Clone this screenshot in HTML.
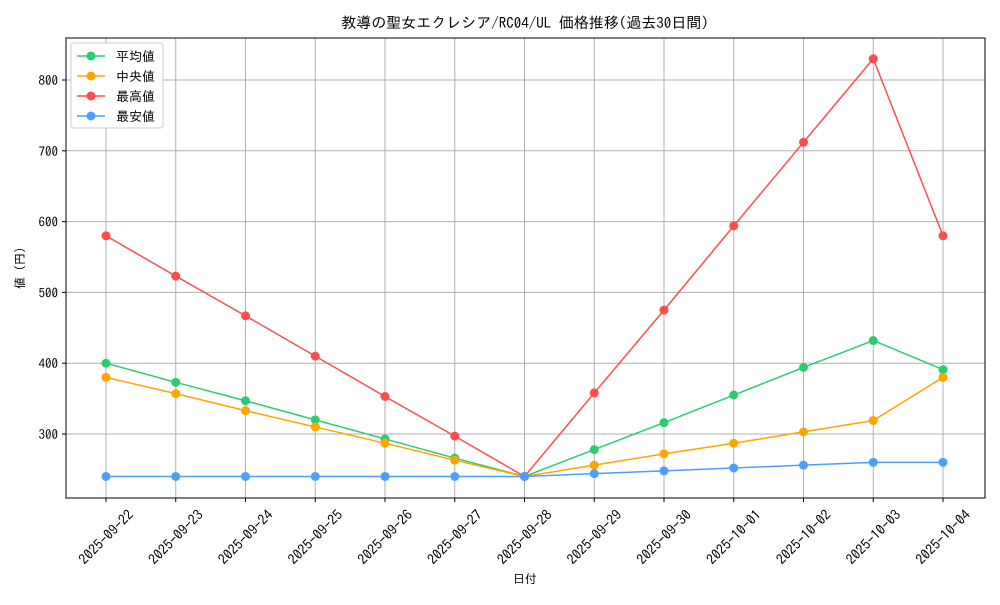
<!DOCTYPE html>
<html><head><meta charset="utf-8"><style>
body{margin:0;background:#fff;}
svg text{font-family:"IPAGothic","Noto Sans CJK JP",sans-serif;fill:#000;}
</style></head><body>
<svg id="chart" width="1000" height="600" xmlns="http://www.w3.org/2000/svg">
<rect width="1000" height="600" fill="#fff"/>
<text x="525" y="28" font-size="15" text-anchor="middle">教導の聖女エクレシア/RC04/UL 価格推移(過去30日間)</text>
<g id="grid"></g><g id="axes"></g><g id="series"></g>
<rect x="66" y="38" width="919" height="460" fill="none" stroke="#000" stroke-width="1"/>
<text x="525" y="583" font-size="12" text-anchor="middle">日付</text>
<text x="24" y="268" font-size="12" text-anchor="middle" transform="rotate(-90 24 268)">値 (円)</text>
<g id="legend"></g>
</svg>
<script>
const dates=["2025-09-22","2025-09-23","2025-09-24","2025-09-25","2025-09-26","2025-09-27","2025-09-28","2025-09-29","2025-09-30","2025-10-01","2025-10-02","2025-10-03","2025-10-04"];
const avgVals=[400,373,347,320,293,266,240,278,316,355,394,432,391];
const medVals=[380,357,333,310,287,263,240,256,272,287,303,319,380];
const maxVals=[580,523,467,410,353,297,240,358,475,594,712,830,580];
const minVals=[240,240,240,240,240,240,240,244,248,252,256,260,260];
const yTicks=[300,400,500,600,700,800];
const seriesNames=["平均値","中央値","最高値","最安値"];
const NS="http://www.w3.org/2000/svg";
function xs(i){return 106+i*(943-106)/(dates.length-1);}
function ys(v){return 434-(v-300)*0.708;}
function mk(tag,attrs,parent){const e=document.createElementNS(NS,tag);for(const k in attrs)e.setAttribute(k,attrs[k]);parent.appendChild(e);return e;}
const grid=document.getElementById('grid'),axes=document.getElementById('axes'),ser=document.getElementById('series'),leg=document.getElementById('legend');
dates.forEach((d,i)=>{
 const x=xs(i);
 const l=mk('line',{x1:x,x2:x,y1:38,y2:498,stroke:'#b0b0b0','stroke-width':1},grid);
 
 
 mk('line',{x1:x,x2:x,y1:498,y2:502,stroke:'#000'},axes);
 const t=mk('text',{x:x,y:542,'font-size':14,'text-anchor':'middle',transform:`rotate(-45 ${x} 537)`},axes);
 t.textContent=d;
 
 
});
yTicks.forEach(v=>{
 const y=ys(v);
 const l=mk('line',{x1:66,x2:985,y1:y,y2:y,stroke:'#b0b0b0','stroke-width':1},grid);
 
 
 mk('line',{x1:62,x2:66,y1:y,y2:y,stroke:'#000'},axes);
 const t=mk('text',{x:58,y:y+5,'font-size':13,'text-anchor':'end'},axes);
 t.textContent=v;
 
 
});
const all=[avgVals,medVals,maxVals,minVals];
const colors=["#2ecc71","#ffa500","#ff4d4d","#4d9eff"];
const keys=["average","median","max","min"];
all.forEach((vals,s)=>{
 const pts=vals.map((v,i)=>xs(i)+','+ys(v)).join(' ');
 const g=mk('g',{},ser);
 
 
 mk('polyline',{points:pts,fill:'none',stroke:colors[s],'stroke-width':1.5},g);
 vals.forEach((v,i)=>{
  const c=mk('circle',{cx:xs(i),cy:ys(v),r:4.5,fill:colors[s]},g);
  
  
 });
});
mk('rect',{x:71,y:43,width:92,height:85,rx:3,fill:'#fff',stroke:'#ccc'},leg);
seriesNames.forEach((n,s)=>{
 const y=56+s*20;
 const g=mk('g',{},leg);
 
 
 mk('line',{x1:77,x2:105,y1:y,y2:y,stroke:colors[s],'stroke-width':1.5},g);
 mk('circle',{cx:91,cy:y,r:4.5,fill:colors[s]},g);
 const t=mk('text',{x:116,y:y+5,'font-size':13},g);
 t.textContent=n;
});
</script>
</body></html>
